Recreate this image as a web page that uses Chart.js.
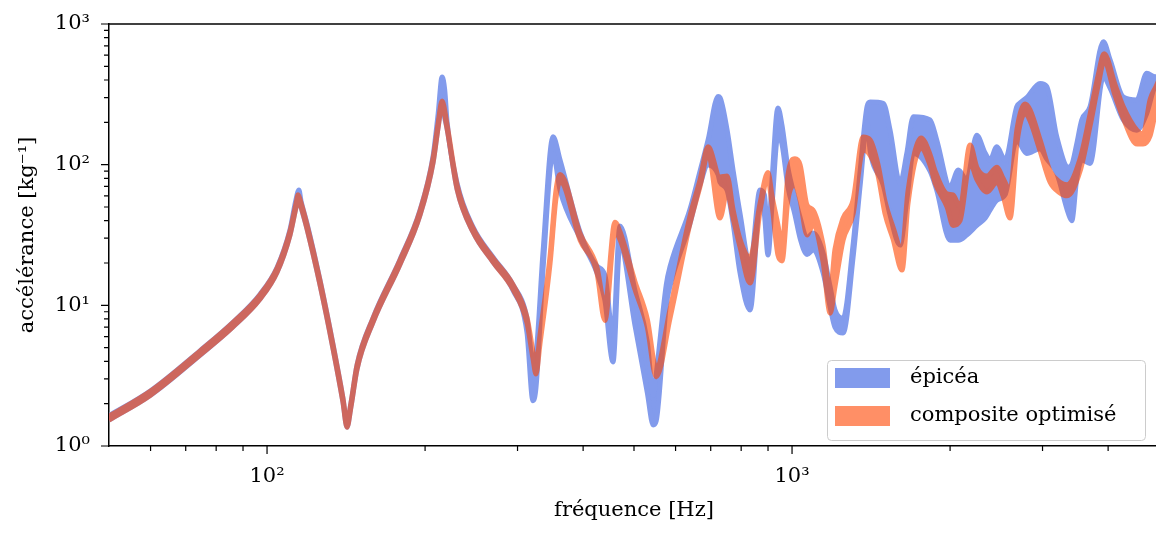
<!DOCTYPE html>
<html>
<head>
<meta charset="utf-8">
<script src="https://cdn.jsdelivr.net/npm/chart.js@4.4.1/dist/chart.umd.min.js"></script>
<style>
  html, body { margin: 0; padding: 0; overflow: hidden; background: #fff; }
  #wrap { position: relative; width: 1156px; height: 533px; overflow: hidden; }
  #wrap canvas { position: absolute; left: 0; top: 0; }
  #layerB { opacity: 0.6; }
</style>
</head>
<body>
<div id="wrap">
  <canvas id="layerA" width="1162" height="533"></canvas>
  <canvas id="layerB" width="1162" height="533"></canvas>
</div>
<script>
// DATA
const seriesNames = ["épicéa", "composite optimisé"];

// épicéa : min / max envelope
const freqE = [50, 60, 74.5, 86, 97, 104.5, 110.6, 113.6, 115, 116.1, 119.2, 126.2, 133.6, 139.5, 142, 144.5, 148.4, 159.2, 179.2, 195.6,
  207.2, 211.8, 215.5, 218, 220.3, 230.1, 246.8, 269.4, 294.1, 312.7, 321, 325.3, 335.5, 350.6, 361.5, 394.8, 425, 440, 456, 470,
  502, 530, 544, 551, 576, 586, 639, 668, 692, 723, 729, 752, 772, 796, 832, 869, 886, 900, 916, 940,
  957, 982, 1013, 1036, 1068, 1096, 1146, 1182, 1207, 1251, 1307, 1350, 1390, 1408, 1492, 1537, 1606, 1654, 1702, 1832,
  1886, 2000, 2074, 2151, 2248, 2332, 2384, 2455, 2545, 2679, 2719, 2799, 2968, 3056, 3193, 3360, 3411, 3486, 3563, 3695,
  3917, 4035, 4277, 4535, 4739, 4915, 5000];
const epiceaLow = [1.53, 2.30, 4.42, 7.0, 11.1, 17.2, 31.6, 50, 58, 50, 34.8, 13.9, 4.9, 2.05, 1.36, 1.9, 3.52, 7.6, 19.6, 43.8,
  104, 185, 270, 215, 179, 67, 33.2, 20.3, 12.8, 6.4, 2.1, 2.6, 18, 120, 66, 30, 17, 10.9, 3.96, 26.8,
  7.25, 2.4, 1.41, 1.5, 10, 13.9, 38, 72, 99.5, 85, 75, 66, 38.5, 17, 9.26, 51.7, 43.9, 22.8, 51.7, 162,
  140, 70, 44, 30, 23, 24.7, 17, 9.7, 7.0, 6.35, 22, 75, 200, 127, 71.6, 43.9, 26.8, 56, 120, 90,
  66, 29, 29, 31.6, 37, 41.7, 47.6, 56, 61, 150, 140, 120, 130, 110, 87, 45, 40, 80, 108, 102,
  420, 350, 208, 176, 232, 360, 370];
const epiceaHigh = [1.64, 2.47, 4.75, 7.55, 12.0, 18.6, 34.5, 57, 66, 55, 38, 15, 5.25, 2.2, 1.47, 2.03, 3.78, 8.15, 21.2, 47.5,
  116, 230, 420, 340, 200, 74, 36, 22, 14.0, 8.1, 4.0, 4.5, 24, 158, 108, 33, 19, 16.4, 6.2, 36.6,
  12.8, 5.5, 2.3, 3.2, 14, 19, 48, 90, 150, 305, 300, 177, 91.6, 45, 19.3, 66, 61, 29.1, 77.8, 253,
  190, 95, 58, 42, 30, 32.7, 23.5, 13.5, 9.3, 8.1, 27, 95, 260, 279, 273, 176, 73.8, 120, 219, 208,
  150, 69.8, 91.6, 77.8, 162, 121, 108, 134, 108, 258, 275, 300, 378, 360, 158, 96, 100, 141, 208, 258,
  748, 555, 302, 288, 446, 422, 430];

// composite optimisé : min / max envelope
const freqC = [50, 60, 74.5, 86, 97, 104.5, 110.6, 113.6, 114.6, 116.1, 119.2, 126.2, 133.6, 139.5, 142, 144.5, 148.4, 159.2, 179.2, 195.6,
  207.2, 211.8, 215.5, 220.3, 230.1, 246.8, 269.4, 294.1, 312.7, 321, 325.3, 331, 346, 355, 361.5, 394.8, 425, 440, 460, 470,
  502, 530, 551, 586, 639, 668, 692, 729, 752, 772, 796, 832, 869, 900, 916, 940, 957, 982, 1013, 1036,
  1068, 1096, 1146, 1182, 1207, 1251, 1307, 1366, 1408, 1458, 1503, 1557, 1620, 1663, 1761, 1832, 1873, 1974, 2026, 2089,
  2183, 2251, 2352, 2458, 2523, 2602, 2683, 2779, 2840, 2968, 3101, 3239, 3341, 3537, 3695, 3828, 3930, 4124, 4271, 4542,
  4663, 4808, 4936, 5000];
const compLow = [1.53, 2.30, 4.43, 7.0, 11.1, 17.2, 31.6, 50, 57, 50, 34.8, 13.9, 4.9, 2.05, 1.36, 1.9, 3.52, 7.6, 19.6, 43.8,
  104, 185, 265, 179, 67, 33.2, 20.3, 13.0, 7.5, 4.2, 3.25, 5.3, 19.8, 57, 76, 29, 17, 7.8, 33, 29.5,
  13, 7.0, 3.1, 8.2, 38, 70, 120, 41.7, 64, 42, 26, 14.4, 47, 78, 52, 22.8, 20.7, 56, 71.6, 56,
  31.6, 37.2, 20.3, 8.8, 13.5, 29.1, 44.6, 127, 117, 84, 45, 29.7, 17.8, 53, 131, 99, 74, 50, 37, 40,
  103, 78, 64, 75, 60, 41.7, 145, 232, 205, 125, 75, 63, 60, 90, 188, 365, 540, 310, 215, 140,
  140, 160, 245, 280];
const compHigh = [1.63, 2.46, 4.73, 7.5, 11.9, 18.4, 33.8, 53.4, 61, 53.4, 37.2, 14.9, 5.2, 2.19, 1.46, 2.02, 3.76, 8.1, 21, 46.8,
  112, 197, 283, 191, 72, 35.4, 21.7, 14.0, 8.2, 4.7, 3.7, 6.1, 22.3, 65, 85, 32.3, 18.7, 10, 39, 33.5,
  14.8, 8.0, 3.6, 9.5, 43, 78, 134, 81.7, 83, 48, 29.5, 22, 53, 88, 60, 37.2, 26, 84, 110, 99.5,
  51.7, 47.6, 26.8, 12.4, 25, 41.7, 56, 157, 150, 100, 55, 36, 24.7, 65, 155, 118, 90, 62, 61, 50,
  138, 95, 83, 96, 80, 66, 180, 270, 245, 150, 90, 75, 72, 110, 228, 430, 615, 370, 260, 175,
  165, 290, 360, 400];

// axes
const xTickValues = [60, 70, 80, 90, 100, 200, 300, 400, 500, 600, 700, 800, 900, 1000, 2000, 3000, 4000];
const xMajor = [100, 1000];
const xMajorLabels = ["10²", "10³"];
const yTickValues = [1, 2, 3, 4, 5, 6, 7, 8, 9, 10, 20, 30, 40, 50, 60, 70, 80, 90, 100, 200, 300, 400, 500, 600, 700, 800, 900, 1000];
const yMajor = [1, 10, 100, 1000];
const yMajorLabels = ["10⁰", "10¹", "10²", "10³"];

const FONT = "DejaVu Serif";
const blue = "rgb(130,155,236)";
const orange = "rgb(255,69,0)";
const orangeSwatch = "rgba(255,69,0,0.6)";

const toPoints = (xs, ys) => xs.map((x, i) => ({x: x, y: ys[i]}));

const band = (name, xs, lo, hi, color) => [
  {label: name + " min", data: toPoints(xs, lo), borderColor: color, backgroundColor: color,
   borderWidth: 5, pointRadius: 0, fill: false, cubicInterpolationMode: "monotone"},
  {label: name, data: toPoints(xs, hi), borderColor: color, backgroundColor: color,
   borderWidth: 5, pointRadius: 0, fill: "-1", cubicInterpolationMode: "monotone"}
];

// tick marks (major longer than minor) + top spine
const tickMarks = {
  id: "tickMarks",
  afterDraw(chart) {
    const {ctx, chartArea: a, scales: {x, y}} = chart;
    ctx.save();
    ctx.strokeStyle = "#000";
    ctx.lineWidth = 1.2;
    ctx.beginPath();
    xTickValues.forEach(v => {
      const px = x.getPixelForValue(v);
      const len = xMajor.includes(v) ? 8 : 5;
      ctx.moveTo(px, a.bottom);
      ctx.lineTo(px, a.bottom + len);
    });
    yTickValues.forEach(v => {
      const py = y.getPixelForValue(v);
      const len = yMajor.includes(v) ? 8 : 5;
      ctx.moveTo(a.left, py);
      ctx.lineTo(a.left - len, py);
    });
    ctx.stroke();
    ctx.lineWidth = 1.5;
    ctx.beginPath();
    ctx.moveTo(a.left, a.top);
    ctx.lineTo(a.right, a.top);
    ctx.stroke();
    ctx.restore();
  }
};

// legend in the lower right corner of the plot
const legendBox = {
  id: "legendBox",
  afterDraw(chart) {
    const {ctx, chartArea: a} = chart;
    const w = 318, h = 80;
    const left = a.right - 14 - w, top = a.bottom - 6 - h;
    ctx.save();
    ctx.beginPath();
    ctx.roundRect(left + 0.5, top + 0.5, w, h, 4);
    ctx.fillStyle = "rgba(255,255,255,0.8)";
    ctx.fill();
    ctx.strokeStyle = "#cccccc";
    ctx.lineWidth = 1;
    ctx.stroke();
    const swatches = [blue, orangeSwatch];
    ctx.font = "21px '" + FONT + "'";
    ctx.textBaseline = "middle";
    seriesNames.forEach((name, i) => {
      const cy = top + 18 + i * 38;
      ctx.fillStyle = swatches[i];
      ctx.fillRect(left + 8, cy - 10, 55, 20);
      ctx.fillStyle = "#000";
      ctx.fillText(name, left + 83, cy);
    });
    ctx.restore();
  }
};

const tickFont = {family: FONT, size: 21};

// layer A : axes, épicéa band, legend
const chartA = new Chart(document.getElementById("layerA"), {
  type: "line",
  data: {datasets: band(seriesNames[0], freqE, epiceaLow, epiceaHigh, blue)},
  options: {
    responsive: false,
    animation: false,
    devicePixelRatio: 1,
    layout: {padding: {left: 0, top: 24, right: 3, bottom: 0}},
    plugins: {legend: {display: false}, tooltip: {enabled: false}},
    scales: {
      x: {
        type: "logarithmic", min: 50, max: 5000,
        afterBuildTicks: s => { s.ticks = xTickValues.map(v => ({value: v})); },
        afterFit: s => { s.height = 87; s.paddingLeft = 0; s.paddingRight = 0; },
        grid: {display: false, drawTicks: false},
        border: {display: true, color: "#000", width: 1.5},
        ticks: {
          autoSkip: false, maxRotation: 0, padding: 18, color: "#000", font: tickFont,
          callback: v => { const i = xMajor.indexOf(v); return i >= 0 ? xMajorLabels[i] : ""; }
        },
        title: {display: true, text: "fréquence [Hz]", color: "#000", font: tickFont, padding: {top: 0, bottom: 10}}
      },
      y: {
        type: "logarithmic", min: 1, max: 1000,
        afterBuildTicks: s => { s.ticks = yTickValues.map(v => ({value: v})); },
        afterFit: s => { s.width = 109; s.paddingTop = 0; s.paddingBottom = 0; },
        grid: {display: false, drawTicks: false},
        border: {display: true, color: "#000", width: 1.5},
        ticks: {
          autoSkip: false, padding: 19, color: "#000", font: tickFont,
          callback: v => { const i = yMajor.indexOf(v); return i >= 0 ? yMajorLabels[i] : ""; }
        },
        title: {display: true, text: "accélérance [kg⁻¹]", color: "#000", font: tickFont, padding: {top: 15, bottom: 0}}
      }
    }
  },
  plugins: [tickMarks, legendBox]
});

// layer B : composite band, on a semi-transparent layer with the same plot area
const area = chartA.chartArea;
new Chart(document.getElementById("layerB"), {
  type: "line",
  data: {datasets: band(seriesNames[1], freqC, compLow, compHigh, orange)},
  options: {
    responsive: false,
    animation: false,
    devicePixelRatio: 1,
    layout: {padding: {left: area.left, top: area.top, right: 1162 - area.right, bottom: 533 - area.bottom}},
    plugins: {legend: {display: false}, tooltip: {enabled: false}},
    scales: {
      x: {type: "logarithmic", min: 50, max: 5000, display: false},
      y: {type: "logarithmic", min: 1, max: 1000, display: false}
    }
  }
});
</script>
</body>
</html>
